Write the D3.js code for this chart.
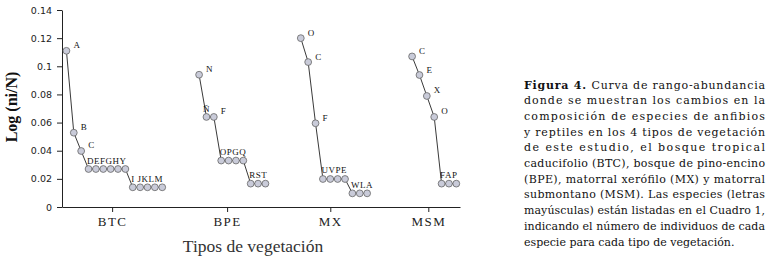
<!DOCTYPE html>
<html>
<head>
<meta charset="utf-8">
<script src="https://cdn.jsdelivr.net/npm/d3@7"></script>
<style>
  body { margin: 0; background: #fff; }
  svg { display: block; }
</style>
</head>
<body>
<div id="chart"></div>
<script>
// categories (vegetation types) and their tick position on the rank axis
const categories = ["BTC", "BPE", "MX", "MSM"];
const categoryTickPos = [6.8, 22.4, 36.4, 49.7];
// rank position of the first species of each group
const groupStart = [0.6, 18.6, 32.4, 47.5];

// Log(ni/N) per species, in rank order
const btcValues = [0.111, 0.0528, 0.0398, 0.027, 0.027, 0.027, 0.027, 0.027, 0.027, 0.014, 0.014, 0.014, 0.014, 0.014];
const bpeValues = [0.094, 0.064, 0.064, 0.033, 0.033, 0.033, 0.033, 0.0166, 0.0166, 0.0166];
const mxValues = [0.120, 0.103, 0.0595, 0.0199, 0.0199, 0.0199, 0.0199, 0.0097, 0.0097, 0.0097];
const msmValues = [0.107, 0.0938, 0.0789, 0.064, 0.0166, 0.0166, 0.0166];

// species labels ("" = shares the label of the run before it)
const btcLabels = ["A", "B", "C", "DEFGHY", "", "", "", "", "", "I JKLM", "", "", "", ""];
const bpeLabels = ["N", "Ñ", "F", "OPGQ", "", "", "", "RST", "", ""];
const mxLabels = ["O", "C", "F", "UVPE", "", "", "", "WLA", "", ""];
const msmLabels = ["C", "E", "X", "O", "FAP", "", ""];

const yTickValues = [0, 0.02, 0.04, 0.06, 0.08, 0.1, 0.12, 0.14];
const yTickLabels = ["0", "0.02", "0.04", "0.06", "0.08", "0.1", "0.12", "0.14"];

const caption = [
  "Curva de rango-abundancia",
  "donde se muestran los cambios en la",
  "composición de especies de anfibios",
  "y reptiles en los 4 tipos de vegetación",
  "de este estudio, el bosque tropical",
  "caducifolio (BTC), bosque de pino-encino",
  "(BPE), matorral xerófilo (MX) y matorral",
  "submontano (MSM). Las especies (letras",
  "mayúsculas) están listadas en el Cuadro 1,",
  "indicando el número de individuos de cada",
  "especie para cada tipo de vegetación."
];

const allValues = [btcValues, bpeValues, mxValues, msmValues];
const allLabels = [btcLabels, bpeLabels, mxLabels, msmLabels];

const W = 767, H = 258;
const svg = d3.select("#chart").append("svg")
    .attr("width", W)
    .attr("height", H);

svg.append("rect").attr("width", W).attr("height", H).attr("fill", "#fff");

const x = d3.scaleLinear().domain([0, 54]).range([62, 460]);
const y = d3.scaleLinear().domain([0, 0.14]).range([207, 10]);

// Y axis
const yAxis = svg.append("g")
    .attr("transform", `translate(${x(0)},0)`)
    .call(d3.axisLeft(y).tickValues(yTickValues)
        .tickFormat((d, i) => yTickLabels[i])
        .tickSize(5).tickSizeOuter(0).tickPadding(5));
yAxis.selectAll("text")
    .attr("font-family", "'DejaVu Sans', Verdana, sans-serif")
    .attr("font-size", "9.5px")
    .attr("fill", "#222");

// X axis
const xAxis = svg.append("g")
    .attr("transform", `translate(0,${y(0)})`)
    .call(d3.axisBottom(x).tickValues(categoryTickPos)
        .tickFormat((d, i) => categories[i])
        .tickSize(5).tickSizeOuter(0).tickPadding(5));
xAxis.selectAll("text")
    .attr("font-family", "'Liberation Serif', 'Times New Roman', serif")
    .attr("font-size", "13px")
    .attr("letter-spacing", "1.5px")
    .attr("fill", "#222");

svg.selectAll(".domain, .tick line").attr("stroke", "#222");

// series
const line = d3.line().x(d => x(d.rank)).y(d => y(d.value));

allValues.forEach((vals, g) => {
  const pts = vals.map((v, i) => ({rank: groupStart[g] + i, value: v, label: allLabels[g][i]}));
  const grp = svg.append("g");

  grp.append("path")
      .datum(pts)
      .attr("fill", "none")
      .attr("stroke", "#3a3a3a")
      .attr("stroke-width", 1)
      .attr("d", line);

  grp.selectAll("circle")
      .data(pts)
      .join("circle")
      .attr("cx", d => x(d.rank))
      .attr("cy", d => y(d.value))
      .attr("r", 3.4)
      .attr("fill", "#c9cbd9")
      .attr("stroke", "#666")
      .attr("stroke-width", 0.8);

  pts.forEach((d, i) => {
    if (!d.label) return;
    const next = pts[i + 1];
    const t = grp.append("text")
        .attr("font-family", "'Liberation Serif', 'Times New Roman', serif")
        .attr("font-size", "9px")
        .attr("letter-spacing", "0.5px")
        .attr("fill", "#111")
        .text(d.label);
    if (next && next.label === "") {
      // run of tied species: label above, starting at first point
      t.attr("x", x(d.rank) - 1.5).attr("y", y(d.value) - 5.5);
    } else if (next && next.value === d.value) {
      t.attr("x", x(d.rank)).attr("y", y(d.value) - 5).attr("text-anchor", "middle");
    } else {
      t.attr("x", x(d.rank) + 7).attr("y", y(d.value) - 2.5);
    }
  });
});

// axis titles
svg.append("text")
    .attr("transform", "translate(16.5,107) rotate(-90)")
    .attr("text-anchor", "middle")
    .attr("font-family", "'Liberation Serif', 'Times New Roman', serif")
    .attr("font-size", "16px")
    .attr("font-weight", "bold")
    .attr("fill", "#111")
    .text("Log (ni/N)");

svg.append("text")
    .attr("x", 253)
    .attr("y", 251.5)
    .attr("text-anchor", "middle")
    .attr("font-family", "'Liberation Serif', 'Times New Roman', serif")
    .attr("font-size", "17.5px")
    .attr("fill", "#333")
    .text("Tipos de vegetación");

// caption
const capG = svg.append("g")
    .attr("font-family", "'DejaVu Serif', 'Liberation Serif', serif")
    .attr("font-size", "11px")
    .attr("fill", "#111");

caption.forEach((txt, i) => {
  const t = capG.append("text")
      .attr("x", 524)
      .attr("y", 88.5 + i * 15.7);
  if (i === 0) {
    t.append("tspan").attr("font-weight", "bold").text("Figura 4. ");
  }
  t.append("tspan").text(txt);
  if (i < caption.length - 1) {
    t.attr("textLength", 241).attr("lengthAdjust", "spacing");
  }
});
</script>
</body>
</html>
